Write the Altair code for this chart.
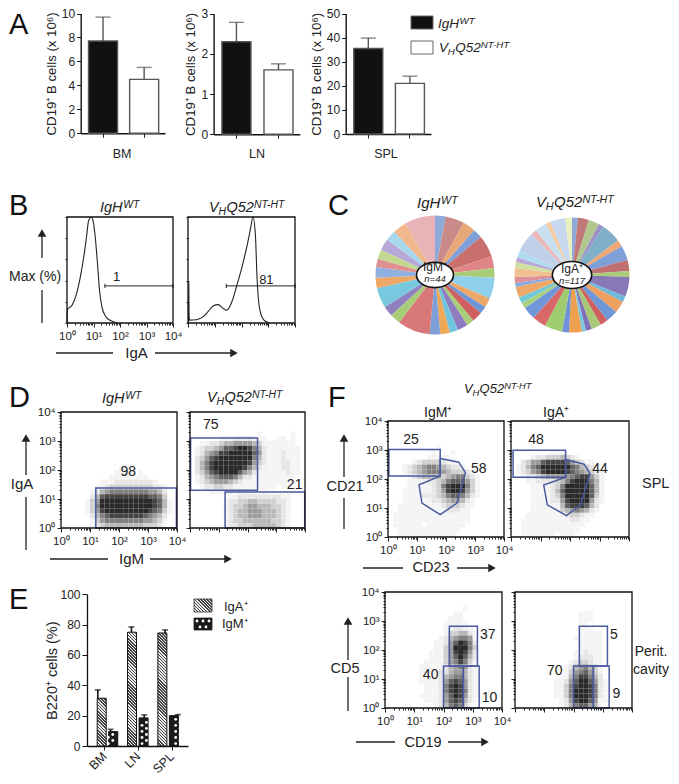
import altair as alt
import pandas as pd

W, H = 663, 768
FONT = "Liberation Sans"
INK = "#222222"
BLUE = "#4a5a9e"
ONE = pd.DataFrame({"v": [0]})

# ---------- Panel A ----------
GROUPS = ["IgH-WT", "VHQ52-NT-HT"]
BM_VAL, BM_ERR = [7.7, 4.5], [9.7, 5.5]
LN_VAL, LN_ERR = [2.3, 1.6], [2.78, 1.75]
SPL_VAL, SPL_ERR = [35.5, 21.0], [39.8, 24.0]
BAR_FILLS = ["#111111", "#ffffff"]

# ---------- Panel B (log10 position, % of max) ----------
H1_X = [0, 0.02, 0.19, 0.35, 0.50, 0.63, 0.73, 0.82, 0.91, 0.98, 1.07, 1.16, 1.23, 1.32, 1.45, 1.64, 1.89]
H1_Y = [0, 12.7, 16.7, 26.7, 43, 62, 80, 97, 100, 97, 80, 53, 30, 15, 6.7, 2.3, 0.3]
H2_X = [0.02, 0.03, 0.04, 0.06, 0.31, 0.57, 0.75, 0.94, 1.13, 1.30, 1.45, 1.64, 1.82, 2.01, 2.20, 2.33, 2.43, 2.52, 2.58, 2.68, 2.83, 3.02]
H2_Y = [0, 39, 6, 2.7, 3, 6, 10.7, 16, 17.3, 14, 12, 20, 35, 52, 72, 88, 100, 83, 43, 13, 3, 0.3]

# ---------- Panel C (slice sweep in degrees, colour) ----------
P1_DEG = [10, 18, 12, 9, 21, 11, 9, 20, 9, 7, 10, 7, 10, 8, 9, 10, 31, 10, 10, 19, 10, 10, 8, 9, 11, 10, 13, 29]
P1_COL = ["#8fa9d8", "#c98a8a", "#e8a878", "#7e9fd8", "#c9706f", "#e08585", "#a8cc78", "#8fd0ea", "#eda868",
          "#6f97d8", "#d06060", "#a8cc78", "#8f7cc0", "#70c4e0", "#eda858", "#7e9fd8", "#d97878", "#a8cc78",
          "#9080c0", "#78c8e0", "#eda868", "#8fb0e0", "#e09090", "#c0d890", "#b8a8d8", "#a8d8ee", "#f0b88c", "#e8b4b8"]
P2_DEG = [6, 11, 11, 5, 20, 7, 15, 11, 6, 20, 6, 12, 12, 8, 10, 6, 4, 13, 7, 18, 14, 13, 6, 6, 11, 4, 6, 9, 6, 5, 7, 20, 6, 12, 5, 15, 7]
P2_COL = ["#8fa9d8", "#c07878", "#b0c890", "#9c90c8", "#80b0c8", "#eda878", "#7e9fd8", "#c07070", "#a8cc78",
          "#8878b8", "#70b8d8", "#eda060", "#6f97d8", "#d06060", "#a8c878", "#8070b8", "#78c8e0", "#eda050",
          "#7090d8", "#a0cc70", "#d86868", "#7098d8", "#a8d080", "#70c8d8", "#eda868", "#88a8e0", "#e09098",
          "#f2c090", "#d0e0a0", "#b8a8d8", "#b0dcf0", "#c0d0e8", "#eab8b8", "#c8e0f0", "#f4cca0", "#c8d8f0", "#e8f0c0"]

# ---------- Panels D / F: cell density, 6 cells per decade,
# rows listed top-down and ending at the bottom of the plot ----------
D1_GRID = ["000000000000110000000000", "000000000001111010000000", "000000000011111111000000",
           "000000001112222222210000", "000000011233333333322100", "000000124566666666554200",
           "000000247888888888776300", "000001359999999999987410", "000001369999999999987410",
           "000001358999999999876310", "000000246788888887654200", "000000135666666665543100",
           "000000123444444443332100"]
D2_GRID = ["000000000000001000000100", "000000111222211100110100", "001122344555543111111100",
           "012334577899864211111110", "012456889999975211121110", "023578999999964211121110",
           "024689999999853211122110", "024689999998642111122110", "023578999975421111112110",
           "012456777642211111111100", "012345554321111111111100", "001223322111111111011000",
           "000011111011000100000000", "000000001122222222211000", "000000012233443333221000",
           "000000012334554443321000", "000000012344555444321000", "000000012344555444321000",
           "000000012334444443321000", "000000012233344444321000"]
F1_GRID = ["000000000010000000000000", "000000000100010000000000", "000000001111100000000000",
           "000001233332110000000000", "000123456654322100000000", "000123456665433321000000",
           "000012344443456632100000", "000011112234677753100000", "000011111236899963100000",
           "000111111235899853100000", "000111122234677642100000", "000111111223455421000000",
           "001111111112333211000000", "001111111111222110000000", "011111111111111110000000",
           "011111111111111110000000", "011111101111111100000000", "001111111111111000000000",
           "001111111111110000000000"]
F2_GRID = ["000000001110000000000000", "000012233343210000000000", "002355788887532110000000",
           "012467999999764321000000", "012356899998765432100000", "001223455555678853100000",
           "000112222346899964100000", "000011112369999974100000", "000011112479999974100000",
           "000011112369999973100000", "000011112258999952100000", "000011111147888742000000",
           "000011111134565421000000", "000111111112332110000000", "001111111111221100000000",
           "001111111111111000000000", "001111111111110000000000", "001111111011100000000000"]
F3_GRID = ["000000000000000010000000", "000000000000001100000000", "000000000000011100000000",
           "000000000000111110000000", "000000000000112211000000", "000000000000133442100000",
           "000000000001245665100000", "000000000011257986200000", "000000000011359996300000",
           "000000000111358985200000", "000000000111357974200000", "000000001111356863100000",
           "000000011111245652100000", "000000011112245542100000", "000000011112456642100000",
           "000000011112578752100000", "000000001112689852100000", "000000001112689862100000",
           "000000011112579852100000", "000000001112578742100000", "000000000012467631000000"]
F4_GRID = ["000000000000011100000000", "000000000000011100000000", "000000000000011000000000",
           "000000000000011100000000", "000000000000011111000000", "000000000000111111000000",
           "000000000000011111000000", "000000000000011111000000", "000000000000112111000000",
           "000000000000122211000000", "000000000001233211000000", "000000000012456431000000",
           "000000000013567531000000", "000000000114688642000000", "000000001125799752100000",
           "000000001136899862100000", "000000001136999862100000", "000000001136999862100000",
           "000000000125899751100000", "000000000124677541000000"]
GRAY = [255, 244, 230, 208, 184, 156, 128, 98, 68, 42]

# gates in decades: (x, x2, y, y2)
D1_GATES = [(1.2, 3.98, 0, 1.38)]
D2_GATES = [(0.02, 2.35, 1.3, 3.1), (1.22, 3.99, 0, 1.24)]
F1_GATES = [(0.03, 1.8, 2.1, 3.02)]
F2_GATES = [(0.07, 1.85, 2.06, 2.99)]
F3_GATES = [(2.2, 3.16, 1.45, 2.82), (2.0, 2.68, 0, 1.45), (2.68, 3.22, 0, 1.45)]
F4_GATES = F3_GATES
F1_POLY_X = [1.8, 2.44, 2.67, 2.38, 1.8, 1.17, 1.07, 1.8]
F1_POLY_Y = [2.71, 2.58, 2.22, 1.17, 0.77, 1.17, 1.8, 2.1]
F2_POLY_X = [1.85, 2.48, 2.68, 2.36, 1.88, 1.23, 1.11, 1.85]
F2_POLY_Y = [2.67, 2.51, 2.19, 1.11, 0.74, 1.11, 1.79, 2.06]
# numbers printed in the plots: (text, x, y) in decades
D1_NUM = [("98", 2.32, 1.93)]
D2_NUM = [("75", 0.72, 3.56), ("21", 3.64, 1.47)]
F1_NUM = [("25", 0.79, 3.34), ("58", 3.13, 2.33)]
F2_NUM = [("48", 0.85, 3.36), ("44", 3.02, 2.33)]
F3_NUM = [("37", 3.51, 2.53), ("40", 1.56, 1.14), ("10", 3.57, 0.34)]
F4_NUM = [("5", 3.38, 2.53), ("70", 1.36, 1.28), ("9", 3.47, 0.48)]

# ---------- Panel E ----------
TISSUES = ["BM", "LN", "SPL"]
IGA_VAL, IGA_ERR = [31.5, 75, 74.5], [37, 78.5, 76.5]
IGM_VAL, IGM_ERR = [9.5, 18.5, 20], [11, 20.5, 20.7]

LOG_TICKS = [m * 10 ** d for d in range(4) for m in range(1, 10)] + [10000]
IS_DEC = "datum.value==1||datum.value==10||datum.value==100||datum.value==1000||datum.value==10000"
LOG_LABEL = ("datum.value==1?'10\u2070':datum.value==10?'10\u00b9':datum.value==100?'10\u00b2':"
             "datum.value==1000?'10\u00b3':datum.value==10000?'10\u2074':''")


def T(text, x, y, size=13, align="left", italic=False, color=INK):
    return alt.Chart(ONE).mark_text(text=text, font=FONT, fontSize=size, align=align, baseline="alphabetic",
                                    fontStyle="italic" if italic else "normal", color=color).encode(
        x=alt.value(x - 8), y=alt.value(y - 8))


def line_seg(x1, y1, x2, y2, width=1.3):
    return alt.Chart(ONE).mark_rule(color=INK, strokeWidth=width).encode(
        x=alt.value(x1 - 8), y=alt.value(y1 - 8), x2=alt.value(x2 - 8), y2=alt.value(y2 - 8))


def head(x, y, shape):
    return alt.Chart(ONE).mark_point(shape=shape, filled=True, color=INK, size=75, opacity=1).encode(
        x=alt.value(x - 8), y=alt.value(y - 8))


def wt_title(x, y, size=14.5):
    return [T("IgH", x, y, size, italic=True), T("WT", x + size * 1.6, y - 4, size * 0.72, italic=True)]


def nt_title(x, y, size=14.5):
    return [T("V", x, y, size, italic=True), T("H", x + size * 0.65, y + 3, size * 0.72, italic=True),
            T("Q52", x + size * 1.2, y, size, italic=True),
            T("NT-HT", x + size * 3.1, y - 4, size * 0.72, italic=True)]


def bars_a(vals, errs, domain, ticks, box):
    x0, x1, y0, y1 = box
    df = pd.DataFrame({"g": GROUPS, "v": vals, "e": errs, "c": BAR_FILLS})
    xs = alt.Scale(domain=GROUPS, range=[x0 - 8, x1 - 8], paddingInner=0.31, paddingOuter=0.18, align=0.55)
    ys = alt.Scale(domain=domain, range=[y1 - 8, y0 - 8], nice=False)
    bar = alt.Chart(df).mark_bar(width=29, stroke="#555555", strokeWidth=1.4).encode(
        x=alt.X("g:N", scale=xs, sort=GROUPS, axis=alt.Axis(
            orient="bottom", offset=-(H - (y1 - 8)), labels=False, title=None, tickSize=4, tickColor=INK,
            domainColor="#111111", domainWidth=1.4)),
        y=alt.Y("v:Q", scale=ys, axis=alt.Axis(
            orient="left", offset=-(x0 - 8), values=ticks, title="CD19\u207a B cells (x 10\u2076)",
            titleFontSize=13.2, titlePadding=3, labelFontSize=12, tickSize=4, domainWidth=1.4, domainColor="#111111",
            tickColor="#111111")),
        color=alt.Color("c:N", scale=None))
    rule = alt.Chart(df).mark_rule(color="#555555", strokeWidth=1.4).encode(
        x=alt.X("g:N", scale=xs, sort=GROUPS, axis=None), y=alt.Y("v:Q", scale=ys, axis=None), y2="e:Q")
    cap = alt.Chart(df).mark_tick(orient="horizontal", size=15, thickness=1.4, color="#555555").encode(
        x=alt.X("g:N", scale=xs, sort=GROUPS, axis=None), y=alt.Y("e:Q", scale=ys, axis=None))
    return [rule, cap, bar]


def log_x_axis(bottom, labels):
    return alt.Axis(orient="bottom", offset=-(H - (bottom - 8)), values=LOG_TICKS, labels=labels, labelExpr=LOG_LABEL,
                    title=None, domain=False, labelFontSize=11.5, labelPadding=3, labelOverlap=False,
                    labelFlush=False, tickColor=INK, tickSize={"condition": {"test": IS_DEC, "value": 4}, "value": 2})


def log_y_axis(left, labels):
    return alt.Axis(orient="left", offset=-(left - 8), values=LOG_TICKS, labels=labels, labelExpr=LOG_LABEL,
                    title=None, domain=False, labelFontSize=11.5, labelPadding=2, labelOverlap=False,
                    labelFlush=False, tickColor=INK, tickSize={"condition": {"test": IS_DEC, "value": 4}, "value": 2})


def frame(box):
    x0, x1, y0, y1 = box
    return alt.Chart(ONE).mark_rect(fillOpacity=0, stroke="#111111", strokeWidth=1.3).encode(
        x=alt.value(x0 - 8), x2=alt.value(x1 - 8), y=alt.value(y0 - 8), y2=alt.value(y1 - 8))


def hist(xs_log, ys_val, gate_y, num, box, labels):
    x0, x1, y0, y1 = box
    sx = alt.Scale(type="log", domain=[1, 10000], range=[x0 - 8, x1 - 8])
    sy = alt.Scale(domain=[0, 100], range=[y1 - 8, y0 - 8], nice=False)
    df = pd.DataFrame({"x": [10 ** v for v in xs_log], "y": ys_val, "i": range(len(xs_log))})
    ln = alt.Chart(df).mark_line(color=INK, strokeWidth=1.1, interpolate="monotone").encode(
        x=alt.X("x:Q", scale=sx, axis=log_x_axis(y1, labels)),
        y=alt.Y("y:Q", scale=sy, axis=alt.Axis(orient="left", offset=-(x0 - 8), values=[0, 20, 40, 60, 80, 100],
                                               labels=False, title=None, domain=False, tickSize=2, tickColor=INK)),
        order="i:Q")
    g = pd.DataFrame({"x": [10 ** 1.43], "x2": [10 ** 4], "y": [gate_y]})
    gate = alt.Chart(g).mark_rule(color=INK, strokeWidth=1).encode(
        x=alt.X("x:Q", scale=sx, axis=None), x2="x2:Q", y=alt.Y("y:Q", scale=sy, axis=None))
    ends = pd.DataFrame({"x": [10 ** 1.43, 10 ** 4], "y": [gate_y - 2] * 2, "y2": [gate_y + 2] * 2})
    end = alt.Chart(ends).mark_rule(color=INK, strokeWidth=1).encode(
        x=alt.X("x:Q", scale=sx, axis=None), y=alt.Y("y:Q", scale=sy, axis=None), y2="y2:Q")
    n = pd.DataFrame({"x": [10 ** num[1]], "y": [num[2]], "t": [num[0]]})
    txt = alt.Chart(n).mark_text(font=FONT, fontSize=13, color=INK).encode(
        x=alt.X("x:Q", scale=sx, axis=None), y=alt.Y("y:Q", scale=sy, axis=None), text="t:N")
    return [ln, gate, end, txt, frame(box)]


def facs(grid, gates, numbers, box, xlabels, ylabels, poly=None):
    x0, x1, y0, y1 = box
    sx = alt.Scale(type="log", domain=[1, 10000], range=[x0 - 8, x1 - 8])
    sy = alt.Scale(type="log", domain=[1, 10000], range=[y1 - 8, y0 - 8])
    cells = []
    first = 24 - len(grid)
    for r, row in enumerate(grid):
        for c, ch in enumerate(row):
            d = int(ch)
            if d:
                g = GRAY[d]
                top = 24 - (first + r)
                cells.append({"x": 10 ** (c / 6), "x2": 10 ** ((c + 1) / 6), "y": 10 ** (top / 6),
                              "y2": 10 ** ((top - 1) / 6), "c": f"#{g:02x}{g:02x}{g:02x}"})
    dens = alt.Chart(pd.DataFrame(cells)).mark_rect().encode(
        x=alt.X("x:Q", scale=sx, axis=log_x_axis(y1, xlabels)), x2="x2:Q",
        y=alt.Y("y:Q", scale=sy, axis=log_y_axis(x0, ylabels)), y2="y2:Q",
        color=alt.Color("c:N", scale=None))
    gd = pd.DataFrame([{"x": 10 ** a, "x2": 10 ** b, "y": 10 ** c, "y2": 10 ** d} for a, b, c, d in gates])
    gl = alt.Chart(gd).mark_rect(fillOpacity=0, stroke=BLUE, strokeWidth=1.5).encode(
        x=alt.X("x:Q", scale=sx, axis=None), x2="x2:Q", y=alt.Y("y:Q", scale=sy, axis=None), y2="y2:Q")
    nd = pd.DataFrame([{"t": t, "x": 10 ** a, "y": 10 ** b} for t, a, b in numbers])
    tl = alt.Chart(nd).mark_text(font=FONT, fontSize=14, color=INK).encode(
        x=alt.X("x:Q", scale=sx, axis=None), y=alt.Y("y:Q", scale=sy, axis=None), text="t:N")
    parts = [dens, gl, tl]
    if poly:
        px, py = poly
        pd_ = pd.DataFrame({"x": [10 ** v for v in px] + [10 ** px[0]], "y": [10 ** v for v in py] + [10 ** py[0]],
                            "i": range(len(px) + 1)})
        parts.append(alt.Chart(pd_).mark_line(color=BLUE, strokeWidth=1.5).encode(
            x=alt.X("x:Q", scale=sx, axis=None), y=alt.Y("y:Q", scale=sy, axis=None), order="i:Q"))
    parts.append(frame(box))
    return parts


def pie(deg, col, cx, cy, r, rx, ratio):
    df = pd.DataFrame({"d": deg, "c": col, "i": range(len(deg))})
    arc = alt.Chart(df).mark_arc(outerRadius=r).encode(
        theta=alt.Theta("d:Q", stack=True), order=alt.Order("i:Q"),
        color=alt.Color("c:N", scale=None), x=alt.value(cx - 8), y=alt.value(cy - 8))
    path = f"M-1 0A1 {ratio} 0 1 1 1 0A1 {ratio} 0 1 1 -1 0Z"
    ell = alt.Chart(ONE).mark_point(shape=path, filled=True, fill="white", stroke="#111111", strokeWidth=1.6,
                                    size=(2 * rx) ** 2, opacity=1).encode(
        x=alt.value(cx - 8), y=alt.value(cy - 8))
    return [arc, ell]


def stripes(w, h, period=3.0):
    k = (w + h) / (w * w + h * h)
    n = int((w + h) / period)
    stops = []
    for i in range(n):
        a, m, b = i / n, (i + 0.5) / n, (i + 1) / n
        stops += [alt.GradientStop(color="#444444", offset=a), alt.GradientStop(color="#444444", offset=m),
                  alt.GradientStop(color="#eeeeee", offset=m), alt.GradientStop(color="#eeeeee", offset=b)]
    return alt.LinearGradient(gradient="linear", stops=stops, x1=0, y1=1, x2=w * k, y2=1 - h * k)


def panel_e():
    box = (87, 188, 594.3, 746)
    sx = alt.Scale(domain=[0, 3], range=[box[0] - 8, box[1] - 8], nice=False, zero=False)
    sy = alt.Scale(domain=[0, 100], range=[box[3] - 8, box[2] - 8], nice=False)
    xax = alt.Axis(orient="bottom", offset=-(H - (box[3] - 8)), values=[0.51, 1.51, 2.51],
                   labelExpr="datum.value<1?'BM':datum.value<2?'LN':'SPL'", labelAngle=315, labelAlign="right",
                   labelBaseline="middle", labelFontSize=12.5, labelPadding=4, title=None, tickSize=4, tickColor=INK,
                   labelOverlap=False, labelFlush=False, domainColor="#111111", domainWidth=1.3)
    yax = alt.Axis(orient="left", offset=-(box[0] - 8), values=[0, 20, 40, 60, 80, 100], title="B220\u207a cells (%)",
                   titleFontSize=14.5, titlePadding=0, labelFontSize=12, tickSize=5, tickColor="#111111",
                   domainColor="#111111", domainWidth=1.3)
    layers = []
    ax = alt.Chart(pd.DataFrame({"x": [0.51, 1.51, 2.51], "y": [0, 0, 0]})).mark_point(opacity=0).encode(
        x=alt.X("x:Q", scale=sx, axis=xax), y=alt.Y("y:Q", scale=sy, axis=yax))
    layers.append(ax)
    iga_x = [i + 0.32 for i in range(3)]
    igm_x = [i + 0.70 for i in range(3)]
    for xs, ev, vs in ((iga_x, IGA_ERR, IGA_VAL), (igm_x, IGM_ERR, IGM_VAL)):
        e = pd.DataFrame({"x": xs, "v": vs, "e": ev})
        layers.append(alt.Chart(e).mark_rule(color="#111111", strokeWidth=1.6).encode(
            x=alt.X("x:Q", scale=sx, axis=None), y=alt.Y("v:Q", scale=sy, axis=None), y2="e:Q"))
        layers.append(alt.Chart(e).mark_tick(orient="horizontal", size=6, thickness=1.6, color="#111111").encode(
            x=alt.X("x:Q", scale=sx, axis=None), y=alt.Y("e:Q", scale=sy, axis=None)))
    for x, v in zip(iga_x, IGA_VAL):
        layers.append(alt.Chart(pd.DataFrame({"x": [x], "v": [v]})).mark_bar(
            orient="vertical", width=9, fill=stripes(9, v * 1.517), stroke="#111111", strokeWidth=1).encode(
            x=alt.X("x:Q", scale=sx, axis=None), y=alt.Y("v:Q", scale=sy, axis=None)))
    for x, v in zip(igm_x, IGM_VAL):
        layers.append(alt.Chart(pd.DataFrame({"x": [x], "v": [v]})).mark_bar(
            orient="vertical", width=9, fill="#1a1a1a", stroke="#111111", strokeWidth=1).encode(
            x=alt.X("x:Q", scale=sx, axis=None), y=alt.Y("v:Q", scale=sy, axis=None)))
        dots = [1.6 + 2.0 * i for i in range(int((v - 1) / 2.0))]
        for shift, sub in ((-2.2, dots[0::2]), (2.2, dots[1::2])):
            if sub:
                layers.append(alt.Chart(pd.DataFrame({"x": [x] * len(sub), "y": sub})).mark_circle(
                    color="white", size=8, opacity=1, xOffset=shift).encode(
                    x=alt.X("x:Q", scale=sx, axis=None), y=alt.Y("y:Q", scale=sy, axis=None)))
    return layers


def swatch(x0, x1, y0, y1, **kw):
    return alt.Chart(ONE).mark_rect(**kw).encode(
        x=alt.value(x0 - 8), x2=alt.value(x1 - 8), y=alt.value(y0 - 8), y2=alt.value(y1 - 8))


def white_dot(x, y):
    return alt.Chart(ONE).mark_circle(color="white", size=8, opacity=1).encode(x=alt.value(x - 8), y=alt.value(y - 8))


layers = []
# A
layers += bars_a(BM_VAL, BM_ERR, [0, 10], [0, 2, 4, 6, 8, 10], (80.7, 165, 13.5, 133.3))
layers += bars_a(LN_VAL, LN_ERR, [0, 3], [0, 1, 2, 3], (213.6, 299.8, 13.5, 134.3))
layers += bars_a(SPL_VAL, SPL_ERR, [0, 50], [0, 10, 20, 30, 40, 50], (345.7, 431, 13.5, 134))
layers += [T("BM", 122, 158, 12.5, "center"), T("LN", 257, 158, 12.5, "center"), T("SPL", 386, 158, 12.5, "center")]
layers += [swatch(411, 433, 16, 29, fill="#111111", stroke="#666666", strokeWidth=1),
           swatch(411, 433, 41, 54, fill="#ffffff", stroke="#666666", strokeWidth=1)]
layers += wt_title(438, 28, 13.5) + nt_title(439, 52, 13.5)
# B
layers += hist(H1_X, H1_Y, 35, ("1", 1.87, 43), (67, 173, 217, 323), True)
layers += hist(H2_X, H2_Y, 35, ("81", 2.93, 41), (188, 295, 217, 323), False)
layers += wt_title(100, 212) + nt_title(209, 212)
layers += [T("Max (%)", 9, 281, 14),
           line_seg(42, 235, 42, 258), head(42, 233, "triangle-up"), line_seg(42, 290, 42, 323),
           T("IgA", 136.5, 358, 15, "center"), line_seg(56, 353, 113, 353), line_seg(155, 353, 234, 353),
           head(234, 353, "triangle-right")]
# C
layers += pie(P1_DEG, P1_COL, 435, 275, 59.5, 18.5, 0.68)
layers += pie(P2_DEG, P2_COL, 572, 275, 57.5, 19.7, 0.685)
layers += wt_title(417, 208, 15) + nt_title(536, 207, 15)
layers += [T("IgM\u207a", 435, 271, 12, "center"), T("n=44", 435, 282, 9.5, "center", italic=True),
           T("IgA\u207a", 572, 273, 12, "center"), T("n=117", 572, 284, 9.5, "center", italic=True)]
# D
layers += facs(D1_GRID, D1_GATES, D1_NUM, (61, 177, 412, 528), True, True)
layers += facs(D2_GRID, D2_GATES, D2_NUM, (190, 305, 412, 528), False, False)
layers += wt_title(102, 403) + nt_title(207, 402)
layers += [line_seg(26, 440, 26, 475), head(26, 438, "triangle-up"), T("IgA", 22, 489, 15, "center"),
           line_seg(26, 497, 26, 550), T("IgM", 131.5, 564, 15, "center"), line_seg(50, 559, 108, 559),
           line_seg(150, 559, 228, 559), head(228, 559, "triangle-right")]
# E
layers += panel_e()
layers += [swatch(194, 212, 599, 612, fill=stripes(18, 13), stroke="#333333", strokeWidth=0.8),
           swatch(194, 212, 618, 630, fill="#1a1a1a", stroke="#222222", strokeWidth=0.8),
           T("IgA\u207a", 224, 611, 13), T("IgM\u207a", 222, 628, 13)]
layers += [white_dot(x, 621) for x in (197, 203, 209)] + [white_dot(x, 627) for x in (200, 206)]
# F
layers += facs(F1_GRID, F1_GATES, F1_NUM, (388, 504, 421, 537), True, True, (F1_POLY_X, F1_POLY_Y))
layers += facs(F2_GRID, F2_GATES, F2_NUM, (511, 629, 421, 537), False, False, (F2_POLY_X, F2_POLY_Y))
layers += facs(F3_GRID, F3_GATES, F3_NUM, (385, 502, 592, 708), True, True)
layers += facs(F4_GRID, F4_GATES, F4_NUM, (515, 632, 592, 708), False, False)
layers += nt_title(464, 393, 13)
layers += [T("IgM\u207a", 424, 417, 14), T("IgA\u207a", 543, 417, 14), T("SPL", 642, 488, 14.5),
           T("Perit.", 651, 656, 14, "center"), T("cavity", 651, 674, 14, "center"),
           line_seg(344, 440, 344, 477), head(344, 438, "triangle-up"), T("CD21", 345, 491, 14.5, "center"),
           line_seg(344, 498, 344, 529), line_seg(363, 568, 403, 568), T("CD23", 431, 572, 14.5, "center"),
           line_seg(457, 568, 492, 568), head(492, 568, "triangle-right"),
           line_seg(348, 623, 348, 660), head(348, 621, "triangle-up"), T("CD5", 345, 673, 14.5, "center"),
           line_seg(348, 677, 348, 711), line_seg(356, 742, 395, 742), T("CD19", 423, 747, 14.5, "center"),
           line_seg(448, 742, 485, 742), head(485, 742, "triangle-right")]
# letters
for s, x, y in (("A", 9, 34), ("B", 9, 215), ("C", 328, 215), ("D", 9, 407), ("E", 9, 609), ("F", 328, 407)):
    layers.append(T(s, x, y, 29, color="#111111"))

chart = alt.layer(*layers).resolve_scale(x="independent", y="independent", theta="independent").properties(
    width=W, height=H, autosize=alt.AutoSizeParams(type="none"), padding=0
).configure_view(stroke=None).configure_axis(
    labelFont=FONT, titleFont=FONT, titleFontWeight="normal", grid=False, labelColor=INK, titleColor=INK)

chart.save("out.html", embed_options={"renderer": "svg", "actions": False})
